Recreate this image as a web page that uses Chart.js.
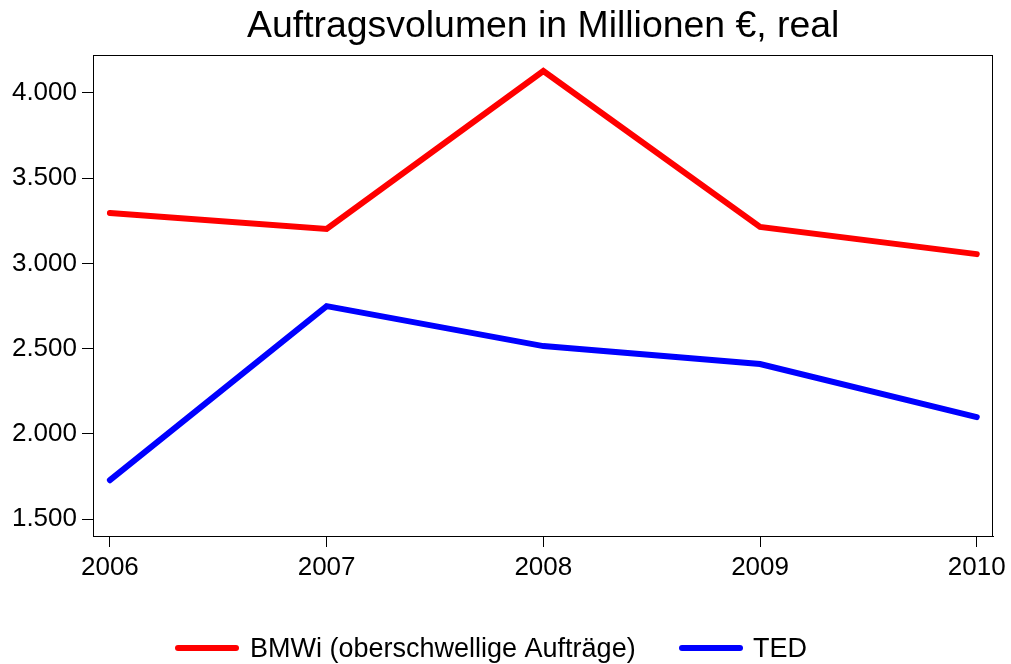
<!DOCTYPE html>
<html>
<head>
<meta charset="utf-8">
<script src="https://cdn.jsdelivr.net/npm/chart.js@4"></script>
<style>
  html, body { margin: 0; padding: 0; background: #fff; }
  #wrap { width: 1011px; height: 664px; }
</style>
</head>
<body>
<div id="wrap"><canvas id="grafica"></canvas></div>
<script>
// Auftragsvolumen in Millionen Euro, real (BMWi vs. TED)
var jahre = [2006, 2007, 2008, 2009, 2010];
var werteBMWi = [3295, 3201, 4127, 3213, 3054];
var werteTED = [1729, 2749, 2515, 2410, 2099];
var yTicks = [1500, 2000, 2500, 3000, 3500, 4000];
var titel = 'Auftragsvolumen in Millionen €, real';
var nameBMWi = 'BMWi (oberschwellige Aufträge)';
var nameTED = 'TED';

var schrift = 'Liberation Sans, Arial, sans-serif';

function punkte(werte) {
    var res = [];
    for (var i = 0; i < jahre.length; i++) {
        res.push({ x: jahre[i], y: werte[i] });
    }
    return res;
}

// Rahmen, Titel und Legende selbst zeichnen
var extras = {
    id: 'extras',
    afterDraw: function (chart) {
        var ctx = chart.ctx;
        var a = chart.chartArea;
        ctx.save();
        ctx.strokeStyle = '#000';
        ctx.lineWidth = 1;
        ctx.strokeRect(Math.round(a.left) + 0.5, Math.round(a.top) + 0.5,
            Math.round(a.right - a.left) - 1, Math.round(a.bottom - a.top));

        ctx.fillStyle = '#000';
        ctx.font = '37.4px ' + schrift;
        ctx.textAlign = 'center';
        ctx.textBaseline = 'middle';
        ctx.fillText(titel, (a.left + a.right) / 2, 27);

        var pos = [[178, 236, 250], [682, 740, 753]];
        ctx.font = '27px ' + schrift;
        ctx.textAlign = 'left';
        chart.data.datasets.forEach(function (ds, i) {
            ctx.strokeStyle = ds.borderColor;
            ctx.lineWidth = 6;
            ctx.lineCap = 'round';
            ctx.beginPath();
            ctx.moveTo(pos[i][0], 648);
            ctx.lineTo(pos[i][1], 648);
            ctx.stroke();
            ctx.fillStyle = '#000';
            ctx.fillText(ds.label, pos[i][2], 650);
        });
        ctx.restore();
    }
};

var context = document.getElementById('grafica').getContext('2d');
var chart = new Chart(context, {
    type: 'line',
    data: {
        datasets: [
            { label: nameBMWi, data: punkte(werteBMWi), borderColor: '#ff0000', backgroundColor: '#ff0000',
              borderWidth: 6, pointRadius: 0, borderCapStyle: 'round', tension: 0 },
            { label: nameTED, data: punkte(werteTED), borderColor: '#0000ff', backgroundColor: '#0000ff',
              borderWidth: 6, pointRadius: 0, borderCapStyle: 'round', tension: 0 }
        ]
    },
    options: {
        responsive: true,
        maintainAspectRatio: false,
        animation: false,
        layout: { padding: { top: 55, right: 17, left: 0, bottom: 78 } },
        plugins: {
            legend: { display: false },
            title: { display: false },
            tooltip: { enabled: false }
        },
        scales: {
            x: {
                type: 'linear',
                min: 2005.922,
                max: 2010.077,
                afterBuildTicks: function (s) { s.ticks = jahre.map(function (v) { return { value: v }; }); },
                afterFit: function (s) { s.height = 50; },
                grid: { drawOnChartArea: false, drawTicks: true, tickLength: 11, color: '#000' },
                border: { display: true, color: '#000' },
                ticks: {
                    color: '#000', padding: 5, maxRotation: 0, autoSkip: false,
                    font: { family: schrift, size: 26 },
                    callback: function (v) { return String(v); }
                }
            },
            y: {
                min: 1402,
                max: 4221,
                afterBuildTicks: function (s) { s.ticks = yTicks.map(function (v) { return { value: v }; }); },
                afterFit: function (s) { s.width = 93; },
                grid: { drawOnChartArea: false, drawTicks: true, tickLength: 11, color: '#000' },
                border: { display: true, color: '#000' },
                ticks: {
                    color: '#000', padding: 5,
                    font: { family: schrift, size: 26 },
                    callback: function (v) { return v.toLocaleString('de-DE'); }
                }
            }
        }
    },
    plugins: [extras]
});
</script>
</body>
</html>
